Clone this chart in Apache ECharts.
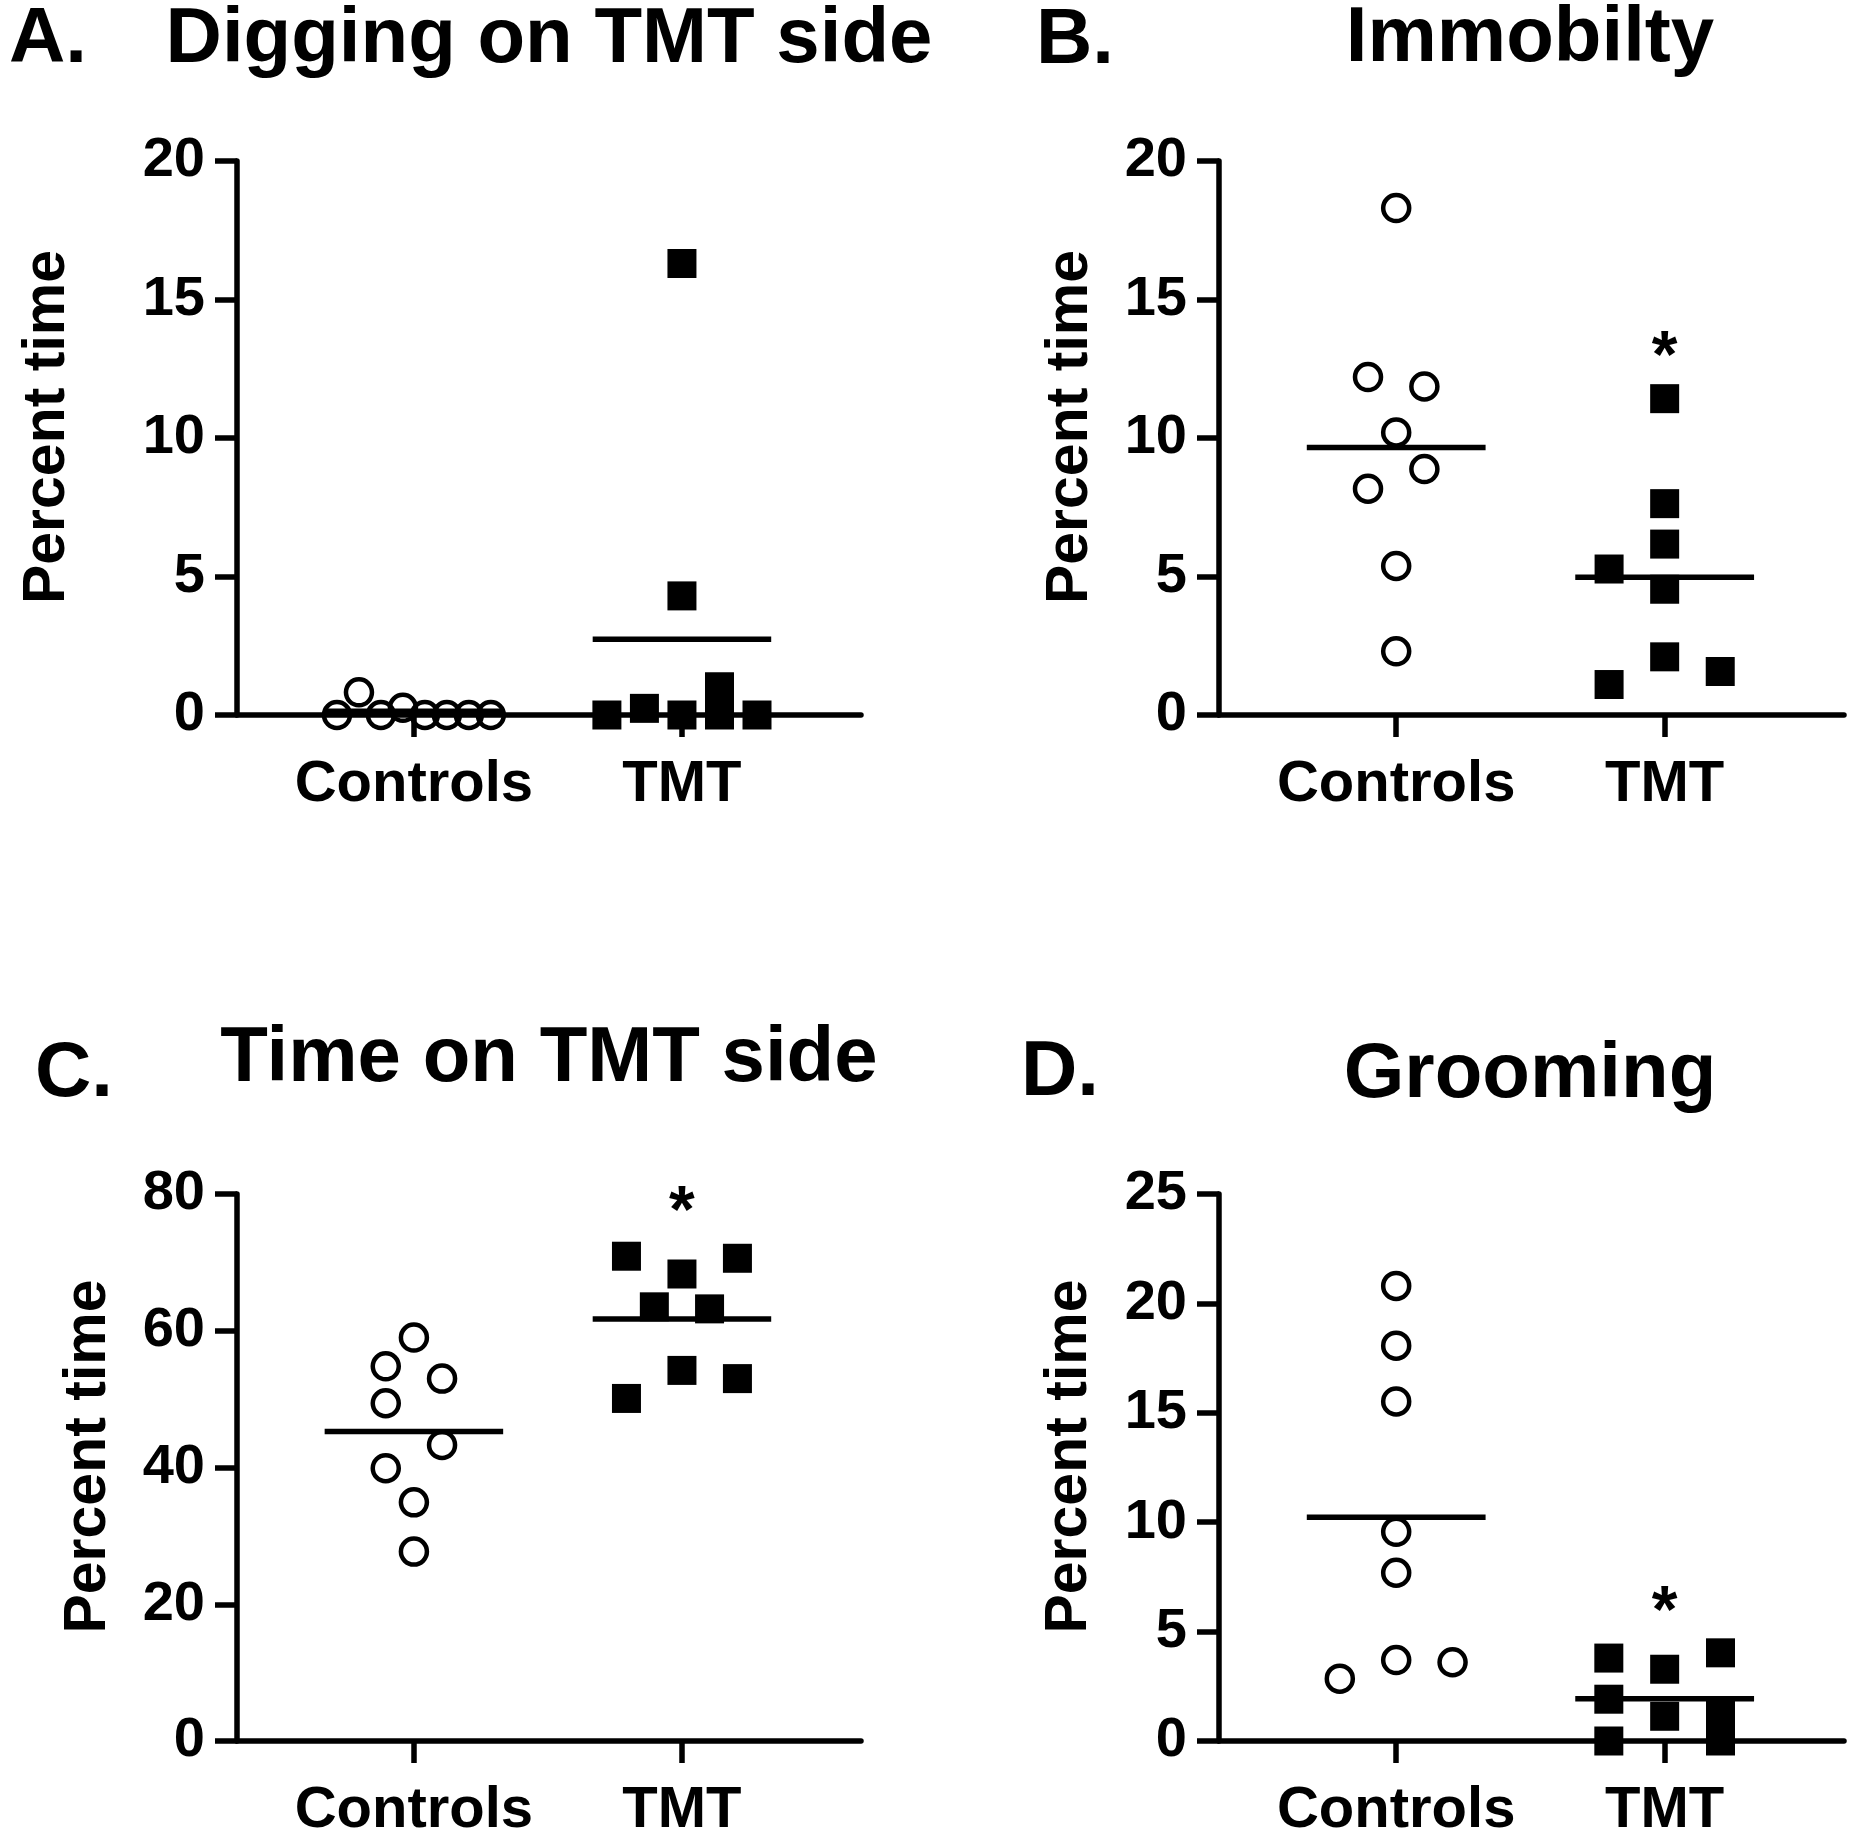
<!DOCTYPE html>
<html><head><meta charset="utf-8">
<script src="https://cdn.jsdelivr.net/npm/echarts@6/dist/echarts.min.js"></script>
<style>html,body{margin:0;padding:0;background:#fff}#c{width:1850px;height:1840px}</style>
</head><body><div id="c"></div>
<script>
// ---- data ----
const categories = ['Controls', 'TMT'];
const panelLetters = ['A.', 'B.', 'C.', 'D.'];
const panelTitles = ['Digging on TMT side', 'Immobilty', 'Time on TMT side', 'Grooming'];
const yAxisName = 'Percent time';

// A. Digging on TMT side
const diggingControls = [0, 0.82, 0, 0.26, 0, 0, 0, 0];
const diggingControlsJitter = [-0.287, -0.205, -0.123, -0.041, 0.041, 0.123, 0.205, 0.287];
const diggingTMT = [0, 0.24, 0, 16.3, 4.3, 0, 1.02, 0];
const diggingTMTJitter = [-0.28, -0.14, 0, 0, 0, 0.14, 0.14, 0.28];
const diggingTicks = [0, 20, 5];

// B. Immobility
const immobControls = [18.3, 12.2, 11.86, 10.2, 8.88, 8.17, 5.38, 2.3];
const immobControlsJitter = [0, -0.105, 0.105, 0, 0.105, -0.105, 0, 0];
const immobTMT = [11.42, 7.63, 6.17, 5.27, 4.54, 2.1, 1.57, 1.1];
const immobTMTJitter = [0, 0, 0, -0.207, 0, 0, 0.207, -0.207];
const immobTicks = [0, 20, 5];
const immobSig = 13.45;

// C. Time on TMT side
const timeControls = [59.0, 54.8, 53.0, 49.4, 43.3, 39.9, 34.9, 27.7];
const timeControlsJitter = [0, -0.105, 0.105, -0.105, 0.105, -0.105, 0, 0];
const timeTMT = [70.9, 70.6, 68.3, 63.5, 63.2, 54.2, 53.0, 50.1];
const timeTMTJitter = [-0.207, 0.207, 0, -0.103, 0.103, 0, 0.207, -0.207];
const timeTicks = [0, 80, 20];
const timeSig = 79.4;

// D. Grooming
const groomControls = [20.8, 18.07, 15.52, 9.56, 7.69, 3.7, 3.6, 2.85];
const groomControlsJitter = [0, 0, 0, 0, 0, 0, 0.21, -0.21];
const groomTMT = [3.79, 1.91, 0, 3.28, 1.13, 4.03, 1.28, 0];
const groomTMTJitter = [-0.208, -0.208, -0.208, 0, 0, 0.208, 0.208, 0.208];
const groomTicks = [0, 25, 5];
const groomSig = 6.55;

// ---- layout / style ----
const FONT = '"Liberation Sans", Arial, Helvetica, sans-serif';
const LW = 5.5;
const grids = [
  {left: 237, top: 161, width: 624, height: 554},
  {left: 1219, top: 161, width: 625, height: 554},
  {left: 237, top: 1194, width: 624, height: 555},
  {left: 1219, top: 1194, width: 625, height: 555}
];
const nameGaps = [189, 148, 148, 149];

const panels = [
  {c: diggingControls, cj: diggingControlsJitter, t: diggingTMT, tj: diggingTMTJitter, ticks: diggingTicks, sig: null},
  {c: immobControls, cj: immobControlsJitter, t: immobTMT, tj: immobTMTJitter, ticks: immobTicks, sig: immobSig},
  {c: timeControls, cj: timeControlsJitter, t: timeTMT, tj: timeTMTJitter, ticks: timeTicks, sig: timeSig},
  {c: groomControls, cj: groomControlsJitter, t: groomTMT, tj: groomTMTJitter, ticks: groomTicks, sig: groomSig}
];

const mean = a => a.reduce((s, v) => s + v, 0) / a.length;
const HALF = 0.333;

const xAxes = [], yAxes = [], series = [];
panels.forEach((p, i) => {
  xAxes.push({
    gridIndex: i, type: 'value', min: 0.34, max: 2.668,
    axisLine: {show: true, onZero: false, lineStyle: {color: '#000', width: LW}},
    axisTick: {show: true, customValues: [1, 2], length: 22, lineStyle: {color: '#000', width: LW}},
    axisLabel: {show: true, customValues: [1, 2], formatter: v => categories[Math.round(v) - 1],
      fontSize: 58, fontWeight: 'bold', color: '#000', fontFamily: FONT, margin: 70, verticalAlign: 'middle'},
    splitLine: {show: false}
  });
  yAxes.push({
    gridIndex: i, type: 'value', min: p.ticks[0], max: p.ticks[1], interval: p.ticks[2],
    axisLine: {show: true, onZero: false, lineStyle: {color: '#000', width: LW}},
    axisTick: {show: true, length: 22, lineStyle: {color: '#000', width: LW}},
    axisLabel: {fontSize: 56, fontWeight: 'bold', color: '#000', fontFamily: FONT, margin: 32},
    splitLine: {show: false},
    name: yAxisName, nameLocation: 'middle', nameRotate: 90, nameGap: nameGaps[i],
    nameTextStyle: {fontSize: 59, fontWeight: 'bold', color: '#000', fontFamily: FONT,
      verticalAlign: 'middle', padding: [0, 0, 0, 22]}
  });
  series.push({
    type: 'scatter', xAxisIndex: i, yAxisIndex: i, symbol: 'circle', symbolSize: 26,
    itemStyle: {color: 'rgba(0,0,0,0)', borderColor: '#000', borderWidth: 4.5, opacity: 1},
    data: p.c.map((v, k) => [1 + p.cj[k], v]), z: 3
  });
  series.push({
    type: 'scatter', xAxisIndex: i, yAxisIndex: i, symbol: 'rect', symbolSize: 29,
    itemStyle: {color: '#000', opacity: 1},
    data: p.t.map((v, k) => [2 + p.tj[k], v]), z: 3
  });
  [[1, p.c], [2, p.t]].forEach(([cx, arr]) => {
    const m = mean(arr);
    series.push({
      type: 'line', xAxisIndex: i, yAxisIndex: i, symbol: 'none', silent: true,
      lineStyle: {color: '#000', width: LW, opacity: 1}, z: 4,
      data: [[cx - HALF, m], [cx + HALF, m]]
    });
  });
  if (p.sig !== null) {
    series.push({
      type: 'scatter', xAxisIndex: i, yAxisIndex: i, symbolSize: 1,
      itemStyle: {color: 'rgba(0,0,0,0)', opacity: 1},
      label: {show: true, formatter: '*', position: 'inside', fontSize: 66, fontWeight: 'bold', color: '#000',
        fontFamily: FONT, offset: [0, 16]},
      data: [[2, p.sig]]
    });
  }
});

const titlePos = [
  {lx: 9, ly: 40, tx: 549, ty: 40},
  {lx: 1036, ly: 41, tx: 1530, ty: 39},
  {lx: 35, ly: 1074, tx: 549, ty: 1059},
  {lx: 1021, ly: 1073, tx: 1530, ty: 1075}
];
const graphic = [];
titlePos.forEach((tp, i) => {
  graphic.push({type: 'text', x: tp.lx, y: tp.ly, silent: true,
    style: {text: panelLetters[i], fill: '#000', fontSize: 78, fontWeight: 'bold', fontFamily: FONT,
      align: 'left', verticalAlign: 'middle'}});
  graphic.push({type: 'text', x: tp.tx, y: tp.ty, silent: true,
    style: {text: panelTitles[i], fill: '#000', fontSize: 78, fontWeight: 'bold', fontFamily: FONT,
      align: 'center', verticalAlign: 'middle'}});
});

const chart = echarts.init(document.getElementById('c'), null, {renderer: 'canvas'});
chart.setOption({
  animation: false,
  backgroundColor: '#fff',
  grid: grids,
  xAxis: xAxes,
  yAxis: yAxes,
  series: series,
  graphic: graphic
});
</script></body></html>
